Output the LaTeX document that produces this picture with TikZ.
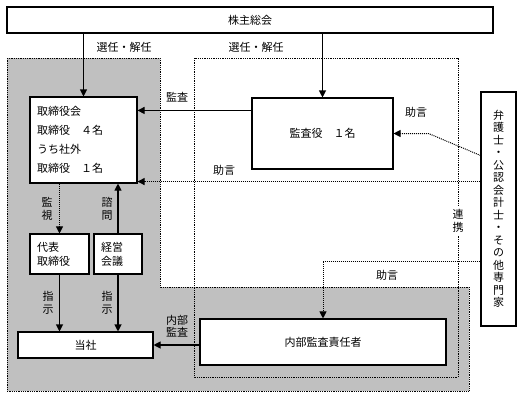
\documentclass[tikz,border=0pt]{standalone}
\usepackage{fontspec}
\setmainfont{Noto Sans CJK JP}
\usetikzlibrary{arrows.meta}
\definecolor{grayfill}{RGB}{192,192,192}
\begin{document}
\begin{tikzpicture}[x=1pt,y=-1pt,
  box/.style={draw, line width=1.1pt, fill=white, inner sep=0pt, font=\fontsize{11}{13}\selectfont},
  lab/.style={inner sep=0pt, font=\fontsize{11}{12.5}\selectfont, align=center},
  arr/.style={line width=1.1pt, -{Triangle[length=7pt,width=7pt]}},
  darr/.style={line width=1pt, dash pattern=on 1pt off 1pt, -{Triangle[length=7pt,width=7pt]}},
  dotline/.style={line width=0.9pt, dash pattern=on 0.9pt off 0.9pt},
]
\useasboundingbox (0,0) rectangle (522,397);
% gray region
\fill[grayfill] (7,58) -- (160,58) -- (160,287) -- (469,287) -- (469,391) -- (7,391) -- cycle;
\draw[dotline] (7,58) -- (160,58) -- (160,287) -- (469,287) -- (469,391) -- (7,391) -- cycle;
% white dotted region
\draw[dotline] (194,58) rectangle (458,377);

% nodes
\node[box, minimum width=486pt, minimum height=26pt] (top) at (250,20) {株主総会};
\node[box, text width=93pt, inner xsep=7pt, minimum height=86pt, align=left,
      font=\fontsize{11}{19}\selectfont] (kb) at (83.5,140)
      {取締役会\\取締役　４名\\うち社外\\取締役　１名};
\node[box, minimum width=141pt, minimum height=71pt] (ka) at (322.5,133.5) {監査役　１名};
\node[box, minimum width=35pt, minimum height=234pt, align=center,
      font=\fontsize{11}{12.5}\selectfont] (bg) at (498.5,209)
      {弁\\護\\士\\・\\公\\認\\会\\計\\士\\・\\そ\\の\\他\\専\\門\\家};
\node[box, text width=45pt, inner xsep=7pt, minimum height=40pt, align=left,
      font=\fontsize{11}{14}\selectfont] (dh) at (59.5,254) {代表\\取締役};
\node[box, text width=34pt, inner xsep=7pt, minimum height=40pt, align=left,
      font=\fontsize{11}{14}\selectfont] (kg) at (118,254) {経営\\会議};
\node[box, minimum width=135pt, minimum height=26pt] (ts) at (85.5,345) {当社};
\node[box, minimum width=246pt, minimum height=46pt] (nb) at (323,342) {内部監査責任者};

% connectors
\draw[arr] (kb.north |- top.south) -- (kb.north);
\draw[arr] (ka.north |- top.south) -- (ka.north);
\draw[arr] ([yshift=-13pt]ka.north west) coordinate (p1) -- (p1 -| kb.east);
\draw[darr] ([yshift=2pt]kb.south east -| bg.west) -- ([yshift=2pt]kb.south east);
\path (ka.east) ++(35,0) coordinate (ad1);
\draw[darr] ([yshift=-64pt]bg.north west) -- (ad1) -- (ka.east);
\draw[darr] ([yshift=65pt]bg.south west) coordinate (p2) -- (p2 -| nb.north) -- (nb.north);
\draw[darr] (dh.north |- kb.south) -- (dh.north);
\draw[arr] (kg.north) -- (kg.north |- kb.south);
\draw[arr] (dh.south) -- (dh.south |- ts.north);
\draw[arr] (kg.south) -- (kg.south |- ts.north);
\draw[arr] (ts.east -| nb.west) -- (ts.east);

% labels
\node[lab] (l1) at (124,47) {選任・解任};
\node[lab] (l2) at (256,47) {選任・解任};
\node[lab] (l3) at (177,97) {監査};
\node[lab] (l4) at (416,112) {助言};
\node[lab] (l5) at (224,170) {助言};
\node[lab] (l6) at (387,275) {助言};
\node[lab] (l7) at (47,209) {監\\視};
\node[lab] (l8) at (107,209) {諮\\問};
\node[lab] (l9) at (48,303) {指\\示};
\node[lab] (l10) at (107,303) {指\\示};
\node[lab] (l11) at (177,326) {内部\\監査};
\node[lab, fill=white, inner ysep=4pt] (l12) at (458,221) {連\\携};
\end{tikzpicture}
\end{document}
